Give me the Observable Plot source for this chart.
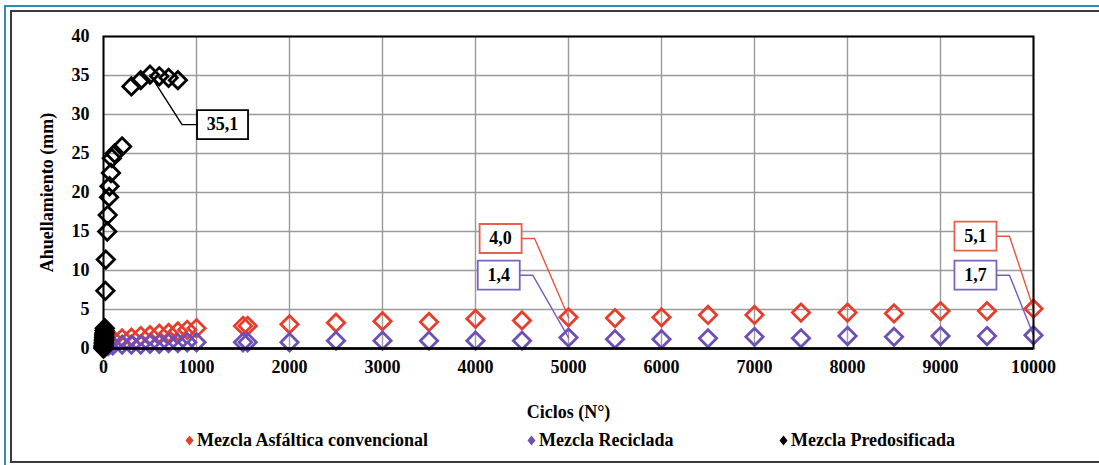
<!DOCTYPE html>
<html><head><meta charset="utf-8">
<script src="https://cdn.jsdelivr.net/npm/d3@7"></script>
<script src="https://cdn.jsdelivr.net/npm/@observablehq/plot@0.6"></script>
<style>
body{margin:0;background:#fff;width:1099px;height:465px;overflow:hidden;position:relative;font-family:"Liberation Serif","Times New Roman",serif;font-weight:bold;}
#outer{position:absolute;left:4px;top:5px;width:1200px;height:600px;border-top:2px solid #2e8db0;border-left:2px solid #2e8db0;}
#inner{position:absolute;left:10px;top:10px;width:1200px;height:449px;border:2px solid #3a3a3a;border-right:none;}
#chart{position:absolute;left:0;top:0;}
#legend{position:absolute;top:430px;left:0;width:1099px;height:22px;font-size:18px;}
.item{position:absolute;top:0;white-space:nowrap;display:flex;align-items:center;}
.item svg{margin-right:3px;}
</style></head>
<body>
<div id="outer"></div>
<div id="inner"></div>
<div id="chart"></div>
<div id="legend"></div>
<script>
// ---- data ----
const cycles = [0,20,50,100,200,300,400,500,600,700,800,900,1000,1500,1550,2000,2500,3000,3500,4000,4500,5000,5500,6000,6500,7000,7500,8000,8500,9000,9500,10000];
const convencional = [0.3,0.6,0.9,1.2,1.3,1.4,1.6,1.7,1.9,2.0,2.2,2.4,2.6,2.9,2.9,3.1,3.3,3.5,3.4,3.8,3.6,4.0,3.9,4.0,4.3,4.3,4.6,4.6,4.5,4.8,4.8,5.1];
const reciclada = [0.1,0.2,0.3,0.4,0.5,0.5,0.5,0.6,0.6,0.7,0.7,0.8,0.8,0.8,0.8,0.8,1.0,1.0,1.0,1.0,1.0,1.4,1.2,1.2,1.3,1.5,1.3,1.6,1.5,1.6,1.6,1.7];
const cyclesPre = [0,1,2,3,4,5,6,7,8,9,10,12,14,20,25,40,45,60,65,80,90,120,200,300,400,500,600,700,800];
const predosificada = [0,0.2,0.4,0.6,0.8,1.0,1.2,1.4,1.6,1.8,2.0,2.3,2.6,7.4,11.4,15.0,17.1,19.4,20.8,22.5,24.4,25.0,25.9,33.6,34.4,35.1,34.9,34.7,34.4];
const seriesNames = ["Mezcla Asfáltica convencional","Mezcla Reciclada","Mezcla Predosificada"];
const seriesColors = ["#e63d2c","#6e4fb6","#000000"];
const xTicks = [0,1000,2000,3000,4000,5000,6000,7000,8000,9000,10000];
const yTicks = [0,5,10,15,20,25,30,35,40];
// data labels (annotation positions in data units)
const labelSeries = [2,0,1,0,1];
const labelCycle = [500,5000,5000,10000,10000];
const labelValue = [35.1,4.0,1.4,5.1,1.7];
const labelText = ["35,1","4,0","1,4","5,1","1,7"];
const labelPosX = [1280,4270,4250,9376,9376];
const labelPosY = [28.7,14.1,9.4,14.4,9.4];

// ---- geometry ----
const W = 1099, H = 420, mL = 103, mR = 66, mT = 36, mB = 72;
const k = (W - mL - mR) / 10000; // px per cycle
const boxW = s => 15 + 9 * s.length, boxH = 29;
const boxColors = ["#e8604c","#7c63c2","#000"];
const leaderColors = ["#e8553f","#7a5cc0","#000"];

const rows = [];
seriesNames.forEach((name, si) => {
  const xs = si === 2 ? cyclesPre : cycles;
  const ys = si === 0 ? convencional : si === 1 ? reciclada : predosificada;
  xs.forEach((c, i) => rows.push({series: si, cycle: c, value: ys[i]}));
});

const labels = labelText.map((t, i) => {
  const hw = boxW(t) / 2 / k;
  const right = labelPosX[i] < labelCycle[i];
  const edge = right ? labelPosX[i] + hw : labelPosX[i] - hw;
  const bend = right ? edge + 13 / k : edge - 15 / k;
  return {i, text: t, series: labelSeries[i], x: labelPosX[i], y: labelPosY[i],
    leader: [{x: edge, y: labelPosY[i]}, {x: bend, y: labelPosY[i]}, {x: labelCycle[i], y: labelValue[i]}]};
});

const boxSymbol = (w, h) => ({draw(ctx) { ctx.rect(-w/2, -h/2, w, h); }});

const marks = [
  Plot.gridX(xTicks, {stroke: "#9a9a9a", strokeOpacity: 1, strokeWidth: 1.4}),
  Plot.gridY(yTicks, {stroke: "#9a9a9a", strokeOpacity: 1, strokeWidth: 1.4}),
  Plot.axisX(xTicks, {tickSize: 0, tickPadding: 12, label: "Ciclos (N°)", labelAnchor: "center", labelArrow: "none", labelOffset: 69, tickFormat: d => String(d), fontSize: 18, letterSpacing: "0.6px"}),
  Plot.axisY(yTicks, {tickSize: 0, tickPadding: 14, label: "Ahuellamiento (mm)", labelAnchor: "center", labelArrow: "none", labelOffset: 63, fontSize: 18, letterSpacing: "0.6px"}),
  ...labels.map(l => Plot.line(l.leader, {x: "x", y: "y", stroke: leaderColors[l.series], strokeWidth: 1.4})),
  ...[0,1,2].map(si => Plot.dot(rows.filter(r => r.series === si), {x: "cycle", y: "value", symbol: "diamond2", r: 7.8, stroke: seriesColors[si], strokeWidth: 2.8, fill: "none"})),
  Plot.frame({stroke: "#000", strokeWidth: 2}),
  Plot.ruleY([0], {stroke: "#000", strokeWidth: 2.6}),
  ...labels.map(l => Plot.dot([l], {x: "x", y: "y", symbol: boxSymbol(boxW(l.text), boxH), r: 5, fill: "#fff", stroke: boxColors[l.series], strokeWidth: 1.8})),
  Plot.text(labels, {x: "x", y: "y", text: "text", fontSize: 18, fontWeight: "bold", fill: "#000"})
];

const chart = Plot.plot({
  width: W, height: H,
  marginLeft: mL, marginRight: mR, marginTop: mT, marginBottom: mB,
  x: {domain: [0, 10000]},
  y: {domain: [0, 40]},
  style: {fontFamily: "'Liberation Serif','Times New Roman',serif", fontWeight: "bold", fontSize: "18px", color: "#000", background: "transparent", overflow: "visible"},
  marks
});
document.getElementById("chart").appendChild(chart);

// legend
const legendLeft = [185, 527, 779];
const legend = document.getElementById("legend");
seriesNames.forEach((name, i) => {
  const d = document.createElement("div");
  d.className = "item";
  d.style.left = legendLeft[i] + "px";
  d.innerHTML = `<svg width="9" height="11"><polygon points="4.5,0.5 8.5,5.5 4.5,10.5 0.5,5.5" fill="${seriesColors[i]}"/></svg><span>${name}</span>`;
  legend.appendChild(d);
});
</script>
</body></html>
